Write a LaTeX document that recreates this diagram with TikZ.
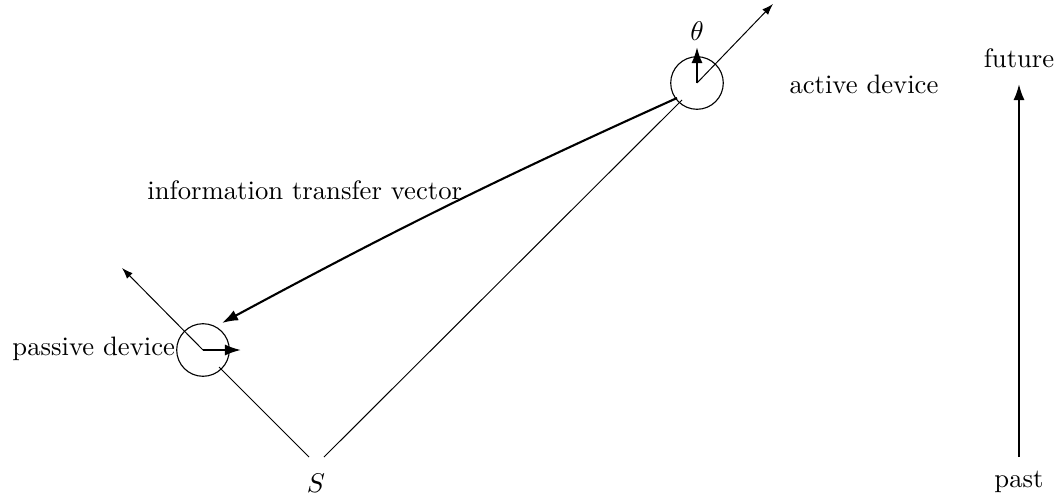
\documentclass[tikz,border=0pt]{standalone}
\usetikzlibrary{arrows.meta}
\begin{document}
\begin{tikzpicture}[x=0.405pt,y=-0.405pt,
  font=\fontsize{10.8}{13}\selectfont,
  dev/.style={draw,circle,line width=0.45pt,minimum size=21.3pt,inner sep=0pt},
  lbl/.style={inner sep=0pt,anchor=base west},
  thin/.style={line width=0.4pt},
  thickarr/.style={line width=0.85pt,-{Latex[length=6.5pt,width=4.5pt]}},
  smallarr/.style={line width=0.4pt,-{Latex[length=4.5pt,width=3.2pt]}}]
\useasboundingbox (0,0) rectangle (1061,502);
% devices
\node[dev] (A) at (697,83) {};
\node[dev] (P) at (203,350) {};
% labels
\node[lbl] (info) at (147,199) {information transfer vector};
\node[lbl] (act) at (789,93) {active device};
\node[lbl] (pas) at (12,355) {passive device};
\node[inner sep=0pt,anchor=base] (theta) at (697,40) {$\theta$};
\node[inner sep=0pt,anchor=base] (S) at (316,492) {$S$};
\node[inner sep=0pt,anchor=base] (fut) at (1019,67) {future};
\node[inner sep=0pt,anchor=base] (past) at (1019,487) {past};
% coordinates
\coordinate (thetatip) at (697,47);
\coordinate (atip) at (773,4);
\coordinate (ptip) at (122,268);
\coordinate (phor) at (241,350);
\coordinate (sL) at (309,457);
\coordinate (sR) at (324,457);
\coordinate (pS) at (219,367);
\coordinate (aS) at (682,100);
\coordinate (aI) at (677,98);
\coordinate (pI) at (222,323);
\coordinate (tb) at (1019,457);
\coordinate (tt) at (1019,84);
% connectors
\draw[thickarr] (A.center) -- (thetatip);
\draw[smallarr] (A.center) -- (atip);
\draw[smallarr] (P.center) -- (ptip);
\draw[thickarr] (P.center) -- (phor);
\draw[thin] (sL) -- (pS);
\draw[thin] (sR) -- (aS);
\draw[thickarr] (aI) to[bend right=2] (pI);
\draw[thickarr] (tb) -- (tt);
\end{tikzpicture}
\end{document}
